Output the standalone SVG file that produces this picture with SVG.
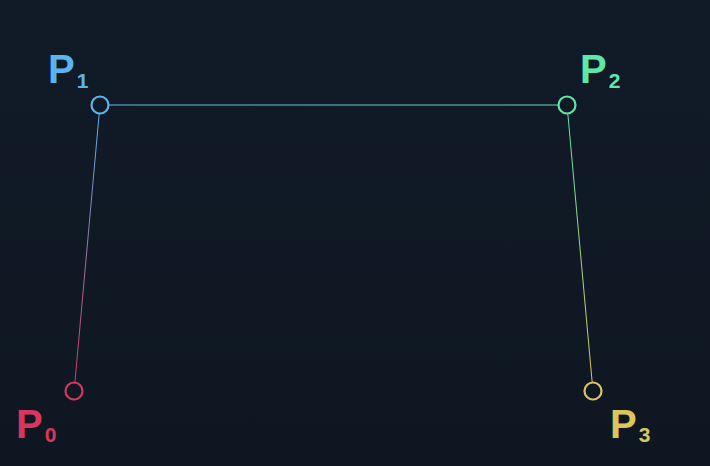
<svg xmlns="http://www.w3.org/2000/svg" width="710" height="466" viewBox="0 0 710 466">
<defs>
<linearGradient id="bg" x1="0" y1="0" x2="0" y2="1">
<stop offset="0" stop-color="#111b28"/>
<stop offset="1" stop-color="#0e1721"/>
</linearGradient>
<linearGradient id="g01" gradientUnits="userSpaceOnUse" x1="74" y1="391" x2="100" y2="105">
<stop offset="0" stop-color="#d8365e"/>
<stop offset="1" stop-color="#5ab4f0"/>
</linearGradient>
<linearGradient id="g12" gradientUnits="userSpaceOnUse" x1="100" y1="105" x2="567" y2="105">
<stop offset="0" stop-color="#62bce0"/>
<stop offset="1" stop-color="#62dcb8"/>
</linearGradient>
<linearGradient id="g23" gradientUnits="userSpaceOnUse" x1="567" y1="105" x2="593" y2="391">
<stop offset="0" stop-color="#5de8a8"/>
<stop offset="1" stop-color="#dcc55c"/>
</linearGradient>
<style>
.pt{fill:none;stroke-width:2.2}
.lbl{font-family:"Liberation Sans",Arial,sans-serif;font-weight:bold;font-size:40px}
.sub{font-size:21px}
.ln{stroke-width:1;fill:none}
</style>
</defs>
<rect width="710" height="466" fill="url(#bg)"/>
<g id="connectors">
<line class="ln" x1="74.9" y1="382.5" x2="99.2" y2="113.5" stroke="url(#g01)"/>
<line class="ln" x1="108.5" y1="105" x2="558.5" y2="105" stroke="url(#g12)"/>
<line class="ln" x1="567.8" y1="113.5" x2="592.2" y2="382.5" stroke="url(#g23)"/>
</g>
<g id="P0">
<circle class="pt" cx="74" cy="391" r="8.5" stroke="#d8365e"/>
<text class="lbl" x="16" y="438" fill="#d8365e">P<tspan class="sub" dx="2" dy="4">0</tspan></text>
</g>
<g id="P1">
<circle class="pt" cx="100" cy="105" r="8.5" stroke="#5ab4f0"/>
<text class="lbl" x="48" y="83" fill="#5ab4f0">P<tspan class="sub" dx="2" dy="5">1</tspan></text>
</g>
<g id="P2">
<circle class="pt" cx="567" cy="105" r="8.5" stroke="#5de8a8"/>
<text class="lbl" x="580" y="83" fill="#5de8a8">P<tspan class="sub" dx="2" dy="5">2</tspan></text>
</g>
<g id="P3">
<circle class="pt" cx="593" cy="391" r="8.5" stroke="#dcc55c"/>
<text class="lbl" x="610" y="438" fill="#dcc55c">P<tspan class="sub" dx="2" dy="4">3</tspan></text>
</g>
</svg>
